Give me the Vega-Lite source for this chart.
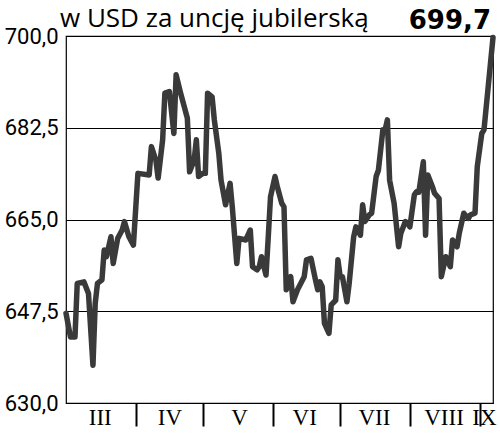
{
  "$schema": "https://vega.github.io/schema/vega-lite/v6.json",
  "autosize": {"type": "none"},
  "width": 427,
  "height": 367,
  "padding": {"left": 66, "top": 36, "right": 7, "bottom": 33},
  "background": "#ffffff",
  "config": {
    "view": {"stroke": "#000000", "strokeWidth": 1.2},
    "font": "Roboto"
  },
  "title": {
    "text": "w USD za uncję jubilerską",
    "anchor": "start",
    "frame": "group",
    "font": "Open Sans",
    "fontSize": 26,
    "fontWeight": "normal",
    "color": "#000000",
    "offset": -24,
    "dx": -6
  },
  "resolve": {"axis": {"x": "independent"}},
  "layer": [
    {
      "data": {
        "values": [
          {"d": "2007-03-01", "v": 647.1},
          {"d": "2007-03-03", "v": 642.6},
          {"d": "2007-03-05", "v": 642.6},
          {"d": "2007-03-06", "v": 652.8},
          {"d": "2007-03-09", "v": 653.1},
          {"d": "2007-03-11", "v": 650.9},
          {"d": "2007-03-13", "v": 637.2},
          {"d": "2007-03-14", "v": 649.0},
          {"d": "2007-03-15", "v": 652.8},
          {"d": "2007-03-17", "v": 653.5},
          {"d": "2007-03-18", "v": 659.2},
          {"d": "2007-03-19", "v": 657.9},
          {"d": "2007-03-21", "v": 661.7},
          {"d": "2007-03-22", "v": 656.6},
          {"d": "2007-03-24", "v": 661.4},
          {"d": "2007-03-26", "v": 663.0},
          {"d": "2007-03-27", "v": 664.6},
          {"d": "2007-03-29", "v": 661.7},
          {"d": "2007-03-31", "v": 660.1},
          {"d": "2007-04-02", "v": 673.8},
          {"d": "2007-04-07", "v": 673.5},
          {"d": "2007-04-08", "v": 678.9},
          {"d": "2007-04-10", "v": 676.3},
          {"d": "2007-04-11", "v": 672.9},
          {"d": "2007-04-13", "v": 680.2},
          {"d": "2007-04-14", "v": 689.1},
          {"d": "2007-04-16", "v": 689.4},
          {"d": "2007-04-18", "v": 681.4},
          {"d": "2007-04-19", "v": 692.6},
          {"d": "2007-04-21", "v": 689.1},
          {"d": "2007-04-24", "v": 684.3},
          {"d": "2007-04-25", "v": 674.1},
          {"d": "2007-04-27", "v": 676.3},
          {"d": "2007-04-28", "v": 680.2},
          {"d": "2007-04-29", "v": 673.2},
          {"d": "2007-05-01", "v": 673.8},
          {"d": "2007-05-02", "v": 673.8},
          {"d": "2007-05-03", "v": 689.1},
          {"d": "2007-05-05", "v": 688.4},
          {"d": "2007-05-06", "v": 684.0},
          {"d": "2007-05-08", "v": 677.6},
          {"d": "2007-05-09", "v": 672.5},
          {"d": "2007-05-11", "v": 667.8},
          {"d": "2007-05-13", "v": 671.9},
          {"d": "2007-05-14", "v": 667.4},
          {"d": "2007-05-16", "v": 656.6},
          {"d": "2007-05-17", "v": 661.4},
          {"d": "2007-05-20", "v": 661.1},
          {"d": "2007-05-22", "v": 663.0},
          {"d": "2007-05-23", "v": 656.0},
          {"d": "2007-05-25", "v": 655.4},
          {"d": "2007-05-26", "v": 656.0},
          {"d": "2007-05-27", "v": 657.9},
          {"d": "2007-05-29", "v": 654.4},
          {"d": "2007-05-30", "v": 661.7},
          {"d": "2007-05-31", "v": 669.3},
          {"d": "2007-06-02", "v": 673.2},
          {"d": "2007-06-03", "v": 671.3},
          {"d": "2007-06-05", "v": 668.1},
          {"d": "2007-06-06", "v": 667.4},
          {"d": "2007-06-07", "v": 651.6},
          {"d": "2007-06-09", "v": 654.1},
          {"d": "2007-06-10", "v": 649.3},
          {"d": "2007-06-12", "v": 651.6},
          {"d": "2007-06-15", "v": 654.1},
          {"d": "2007-06-16", "v": 657.3},
          {"d": "2007-06-18", "v": 657.6},
          {"d": "2007-06-20", "v": 653.5},
          {"d": "2007-06-21", "v": 651.6},
          {"d": "2007-06-22", "v": 653.1},
          {"d": "2007-06-23", "v": 652.2},
          {"d": "2007-06-24", "v": 645.2},
          {"d": "2007-06-26", "v": 643.3},
          {"d": "2007-06-27", "v": 648.7},
          {"d": "2007-06-29", "v": 649.6},
          {"d": "2007-06-30", "v": 657.3},
          {"d": "2007-07-01", "v": 654.1},
          {"d": "2007-07-02", "v": 654.1},
          {"d": "2007-07-04", "v": 649.3},
          {"d": "2007-07-05", "v": 652.8},
          {"d": "2007-07-07", "v": 661.7},
          {"d": "2007-07-08", "v": 663.6},
          {"d": "2007-07-10", "v": 662.0},
          {"d": "2007-07-11", "v": 667.8},
          {"d": "2007-07-12", "v": 664.6},
          {"d": "2007-07-14", "v": 665.9},
          {"d": "2007-07-15", "v": 666.2},
          {"d": "2007-07-17", "v": 673.2},
          {"d": "2007-07-18", "v": 674.4},
          {"d": "2007-07-20", "v": 682.1},
          {"d": "2007-07-21", "v": 682.1},
          {"d": "2007-07-22", "v": 684.0},
          {"d": "2007-07-23", "v": 672.5},
          {"d": "2007-07-25", "v": 668.1},
          {"d": "2007-07-27", "v": 659.8},
          {"d": "2007-07-28", "v": 662.4},
          {"d": "2007-07-30", "v": 664.6},
          {"d": "2007-07-31", "v": 664.3},
          {"d": "2007-08-01", "v": 663.6},
          {"d": "2007-08-03", "v": 669.7},
          {"d": "2007-08-04", "v": 670.3},
          {"d": "2007-08-05", "v": 670.2},
          {"d": "2007-08-07", "v": 676.0},
          {"d": "2007-08-08", "v": 662.0},
          {"d": "2007-08-09", "v": 673.5},
          {"d": "2007-08-11", "v": 671.3},
          {"d": "2007-08-12", "v": 670.0},
          {"d": "2007-08-14", "v": 669.0},
          {"d": "2007-08-15", "v": 654.1},
          {"d": "2007-08-17", "v": 657.9},
          {"d": "2007-08-19", "v": 656.0},
          {"d": "2007-08-20", "v": 661.1},
          {"d": "2007-08-22", "v": 659.8},
          {"d": "2007-08-23", "v": 662.4},
          {"d": "2007-08-25", "v": 666.2},
          {"d": "2007-08-27", "v": 665.2},
          {"d": "2007-08-28", "v": 665.9},
          {"d": "2007-08-30", "v": 666.2},
          {"d": "2007-08-31", "v": 675.1},
          {"d": "2007-09-02", "v": 681.4},
          {"d": "2007-09-03", "v": 682.1},
          {"d": "2007-09-07", "v": 699.7}
        ]
      },
      "mark": {"type": "line", "color": "#3a3a3a", "strokeWidth": 5.5, "strokeJoin": "round", "strokeCap": "round"},
      "encoding": {
        "x": {
          "field": "d",
          "type": "temporal",
          "scale": {"type": "utc", "domain": [{"year": 2007, "month": 3, "date": 1, "utc": true}, {"year": 2007, "month": 9, "date": 7, "utc": true}]},
          "axis": {
            "orient": "bottom",
            "title": null,
            "values": [
              {"year": 2007, "month": 4, "date": 1, "utc": true},
              {"year": 2007, "month": 5, "date": 1, "utc": true},
              {"year": 2007, "month": 6, "date": 1, "utc": true},
              {"year": 2007, "month": 7, "date": 1, "utc": true},
              {"year": 2007, "month": 8, "date": 1, "utc": true},
              {"year": 2007, "month": 9, "date": 1, "utc": true}
            ],
            "labels": false,
            "tickSize": 23,
            "tickWidth": 2,
            "tickColor": "#000000",
            "domainColor": "#000000",
            "domainWidth": 1.2,
            "grid": false
          }
        },
        "y": {
          "field": "v",
          "type": "quantitative",
          "scale": {"domain": [630, 700], "nice": false, "zero": false},
          "axis": {
            "title": null,
            "values": [630, 647.5, 665, 682.5, 700],
            "labelExpr": "replace(format(datum.value, '.1f'), '.', ',')",
            "labelFont": "Roboto",
            "labelFontSize": 22,
            "labelColor": "#000000",
            "labelPadding": 8,
            "ticks": false,
            "domain": false,
            "grid": true,
            "gridColor": "#000000",
            "gridWidth": 1.2,
            "gridOpacity": 1
          }
        }
      }
    },
    {
      "data": {"values": [{"d": "2007-09-07", "v": 699.7, "label": "699,7"}]},
      "mark": {"type": "text", "align": "right", "baseline": "alphabetic", "dy": -9, "dx": -2, "font": "DejaVu Sans", "fontSize": 26, "fontWeight": "bold", "color": "#000000"},
      "encoding": {
        "x": {
          "field": "d",
          "type": "temporal",
          "axis": {
            "orient": "bottom",
            "title": null,
            "values": [
              {"year": 2007, "month": 3, "date": 16, "utc": true},
              {"year": 2007, "month": 4, "date": 16, "utc": true},
              {"year": 2007, "month": 5, "date": 17, "utc": true},
              {"year": 2007, "month": 6, "date": 15, "utc": true},
              {"year": 2007, "month": 7, "date": 16, "utc": true},
              {"year": 2007, "month": 8, "date": 16, "utc": true},
              {"year": 2007, "month": 9, "date": 3, "utc": true}
            ],
            "labelExpr": "['I','II','III','IV','V','VI','VII','VIII','IX','X','XI','XII'][utcmonth(datum.value)]",
            "labelFont": "Liberation Serif",
            "labelFontSize": 23,
            "labelColor": "#000000",
            "labelPadding": 3,
            "labelOverlap": false,
            "labelFlush": false,
            "ticks": false,
            "domain": false,
            "grid": false
          }
        },
        "y": {"field": "v", "type": "quantitative"},
        "text": {"field": "label"}
      }
    }
  ]
}
